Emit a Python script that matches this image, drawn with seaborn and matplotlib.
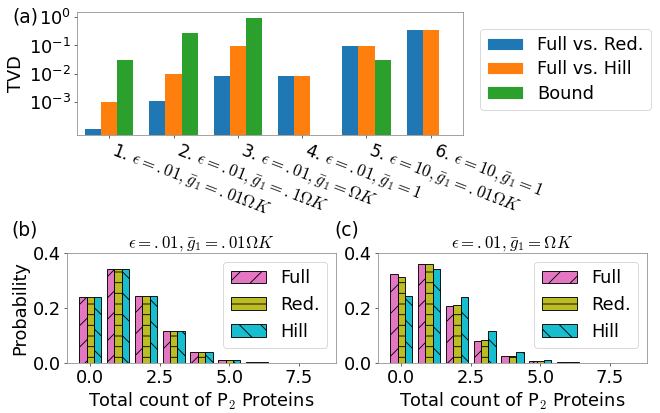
import numpy as np
import pandas as pd
import matplotlib
matplotlib.use('Agg')
import matplotlib.pyplot as plt
from matplotlib.patches import Patch
from matplotlib.ticker import NullLocator
import seaborn as sns

sns.set_style('ticks')
plt.rcParams['font.family'] = ['DejaVu Sans']
plt.rcParams['mathtext.fontset'] = 'cm'
plt.rcParams['font.size'] = 20
plt.rcParams['axes.edgecolor'] = '0.5'
plt.rcParams['axes.unicode_minus'] = False
plt.rcParams['text.color'] = 'black'
plt.rcParams['axes.labelcolor'] = 'black'
plt.rcParams['xtick.labelcolor'] = 'black'
plt.rcParams['ytick.labelcolor'] = 'black'

# panel (a): total variation distance per parameter case
cases = [r'1. $\epsilon=.01, \bar{g}_1=.01\Omega K$',
         r'2. $\epsilon=.01, \bar{g}_1=.1\Omega K$',
         r'3. $\epsilon=.01, \bar{g}_1=\Omega K$',
         r'4. $\epsilon=.01, \bar{g}_1=1$',
         r'5. $\epsilon=10, \bar{g}_1=.01\Omega K$',
         r'6. $\epsilon=10, \bar{g}_1=1$']
full_red = [1.1e-4, 1.05e-3, 8.3e-3, 8.1e-3, 0.094, 0.36]
full_hill = [1.0e-3, 9.8e-3, 0.096, 8.1e-3, 0.094, 0.36]
bound = [0.031, 0.27, 0.98, np.nan, 0.030, np.nan]
tvd_names = ['Full vs. Red.', 'Full vs. Hill', 'Bound']
tvd_colors = ['tab:blue', 'tab:orange', 'tab:green']

# panels (b), (c): distributions of P2 count
counts = [0, 1, 2, 3, 4, 5, 6, 7, 8]
full_b = [0.241, 0.343, 0.243, 0.115, 0.041, 0.012, 0.003, 0.0006, 0.0001]
red_b = [0.241, 0.343, 0.243, 0.115, 0.041, 0.012, 0.003, 0.0006, 0.0001]
hill_b = [0.241, 0.343, 0.243, 0.115, 0.041, 0.012, 0.003, 0.0006, 0.0001]
full_c = [0.324, 0.360, 0.206, 0.081, 0.0265, 0.007, 0.002, 0.0005, 0.0001]
red_c = [0.314, 0.360, 0.210, 0.085, 0.0265, 0.007, 0.002, 0.0005, 0.0001]
hill_c = [0.244, 0.342, 0.241, 0.116, 0.041, 0.012, 0.003, 0.0006, 0.0001]
model_names = ['Full', 'Red.', 'Hill']
model_colors = ['tab:pink', 'tab:olive', 'tab:cyan']
model_hatches = ['/', '-', '\\']

fig = plt.figure(figsize=(660 / 64, 413 / 64), dpi=64)
ax_a = fig.add_axes([0.1167, 0.6743, 0.5848, 0.2967])
ax_b = fig.add_axes([0.1015, 0.1211, 0.4076, 0.2663])
ax_c = fig.add_axes([0.5727, 0.1211, 0.4076, 0.2663])

rows = []
for name, vals in zip(tvd_names, [full_red, full_hill, bound]):
    for c, v in zip(cases, vals):
        rows.append({'case': c, 'tvd': v, 'kind': name})
df_a = pd.DataFrame(rows).dropna()

sns.barplot(data=df_a, x='case', y='tvd', hue='kind', order=cases, hue_order=tvd_names,
            palette=tvd_colors, width=0.75, saturation=1, errorbar=None, legend=False,
            linewidth=0, ax=ax_a)
ax_a.set_yscale('log')
ax_a.set_ylim(6.9e-5, 1.55)
ax_a.set_yticks([1e-3, 1e-2, 1e-1, 1])
ax_a.yaxis.set_minor_locator(NullLocator())
ax_a.set_xticks(range(len(cases)))
ax_a.set_xticklabels(cases, rotation=-21, ha='left', va='top', fontsize=19)
ax_a.set_xlabel('')
ax_a.set_ylabel('TVD')
ax_a.legend(handles=[Patch(facecolor=c, label=n) for c, n in zip(tvd_colors, tvd_names)],
            loc='upper left', bbox_to_anchor=(0.714, 0.951), bbox_transform=fig.transFigure,
            labelspacing=0.35)


def dist_panel(ax, full, red, hill, title):
    rows = []
    for name, vals in zip(model_names, [full, red, hill]):
        for k, p in zip(counts, vals):
            rows.append({'count': k, 'prob': p, 'model': name})
    df = pd.DataFrame(rows)
    sns.barplot(data=df, x='count', y='prob', hue='model', hue_order=model_names,
                palette=model_colors, native_scale=True, width=0.8, saturation=1,
                errorbar=None, edgecolor='black', linewidth=1, legend=False, ax=ax)
    for cont, h in zip(ax.containers, model_hatches):
        for bar in cont:
            bar.set_hatch(h)
    ax.set_ylim(0, 0.4)
    ax.set_yticks([0.0, 0.2, 0.4])
    ax.set_xticks([0.0, 2.5, 5.0, 7.5])
    ax.set_xlabel(r'Total count of P$_2$ Proteins')
    ax.set_ylabel('')
    ax.set_title(title, fontsize=19)
    handles = [Patch(facecolor=c, edgecolor='black', hatch=h, label=n)
               for c, h, n in zip(model_colors, model_hatches, model_names)]
    ax.legend(handles=handles, loc='upper right')


dist_panel(ax_b, full_b, red_b, hill_b, r'$\epsilon=.01, \bar{g}_1=.01\Omega K$')
dist_panel(ax_c, full_c, red_c, hill_c, r'$\epsilon=.01, \bar{g}_1=\Omega K$')
ax_b.set_ylabel('Probability')

fig.text(12 / 660, 1 - 17 / 413, '(a)', fontsize=21, ha='left', va='center')
fig.text(11 / 660, 1 - 230 / 413, '(b)', fontsize=21, ha='left', va='center')
fig.text(334 / 660, 1 - 230 / 413, '(c)', fontsize=21, ha='left', va='center')

fig.savefig('out.png', dpi=64)
